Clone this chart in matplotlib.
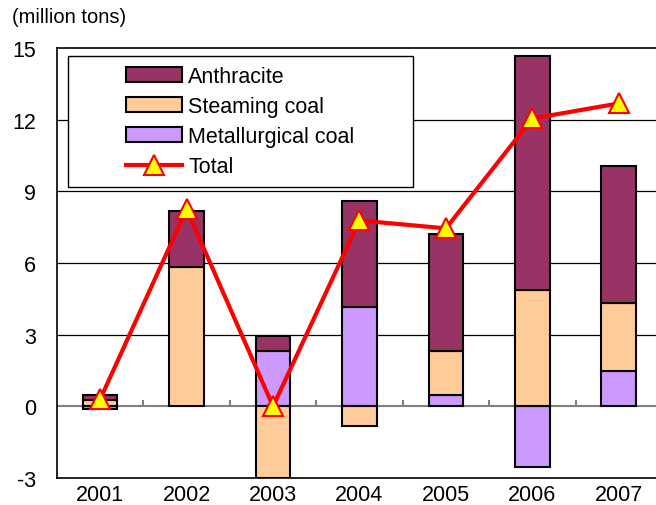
import numpy as np
import matplotlib.pyplot as plt
from matplotlib.patches import Rectangle
from matplotlib.lines import Line2D

plt.rcParams['font.family'] = ['Liberation Sans', 'DejaVu Sans']
plt.rcParams['axes.unicode_minus'] = False

# Data (million tons)
years = ['2001', '2002', '2003', '2004', '2005', '2006', '2007']
metallurgical = [-0.12, 0.0, 2.33, 4.17, 0.46, -2.53, 1.5]
steaming = [0.25, 5.83, -3.0, -0.83, 1.87, 4.87, 2.83]
anthracite = [0.21, 2.34, 0.63, 4.41, 4.87, 9.8, 5.75]
total = [0.3, 8.25, 0.0, 7.78, 7.45, 12.05, 12.68]
yticks = [-3, 0, 3, 6, 9, 12, 15]

colors = {'Anthracite': '#993366', 'Steaming coal': '#FFCC99',
          'Metallurgical coal': '#CC99FF'}

fig = plt.figure(figsize=(6.56, 5.06), dpi=100)
ax = fig.add_axes([57 / 656, 27 / 506, 605 / 656, 430 / 506])

x = np.arange(len(years))
pos_bottom = np.zeros(len(years))
neg_bottom = np.zeros(len(years))

# Excel-style stacking: first series at the bottom, negatives stack downward
for name, vals in [('Metallurgical coal', metallurgical),
                   ('Steaming coal', steaming),
                   ('Anthracite', anthracite)]:
    v = np.array(vals)
    bottom = np.where(v >= 0, pos_bottom, neg_bottom)
    mask = v != 0
    ax.bar(x[mask], v[mask], 0.4, bottom=bottom[mask], color=colors[name],
           edgecolor='black', linewidth=1.5, zorder=3)
    pos_bottom += np.where(v > 0, v, 0)
    neg_bottom += np.where(v < 0, v, 0)

ax.plot(x, total, color='#FF0000', lw=3, marker='^', ms=14,
        mfc='#FFFF00', mec='#FF0000', mew=1.5, zorder=5)

# gridlines and zero axis
for yv in [3, 6, 9, 12]:
    ax.axhline(yv, color='black', lw=0.9, zorder=1)
ax.axhline(0, color='#808080', lw=1.5, zorder=2)
ax.vlines(x[:-1] + 0.5, 0, 0.25, color='#808080', lw=1.5, zorder=2)

ax.set_xlim(-0.5, 6.5)
ax.set_ylim(-3, 15)
ax.set_yticks(yticks)
ax.set_xticks(x)
ax.set_xticklabels(years)
ax.tick_params(axis='y', length=0, pad=15, labelsize=15.5)
ax.tick_params(axis='x', length=0, pad=4, labelsize=15.5)
for s in ax.spines.values():
    s.set_color('black')
    s.set_linewidth(1.2)

# legend in a fixed box
ax.add_patch(Rectangle((0.018, 0.677), 0.57, 0.304, transform=ax.transAxes,
                       facecolor='white', edgecolor='black', lw=1, zorder=6))
handles = [Rectangle((0, 0), 1, 1, facecolor=colors[n], edgecolor='black', lw=1.5)
           for n in ['Anthracite', 'Steaming coal', 'Metallurgical coal']]
handles.append(Line2D([], [], color='#FF0000', lw=3, marker='^', ms=14,
                      mfc='#FFFF00', mec='#FF0000', mew=1.5))
leg = ax.legend(handles, ['Anthracite', 'Steaming coal', 'Metallurgical coal', 'Total'],
                loc='center', bbox_to_anchor=(0.303, 0.829), frameon=False,
                fontsize=15.5, handlelength=2.6, handleheight=0.65,
                labelspacing=0.42, handletextpad=0.3, borderpad=0)
leg.set_zorder(7)

fig.text(0.018, 0.966, '(million tons)', fontsize=14.5, va='center', ha='left')

fig.savefig('out.png', dpi=100)
